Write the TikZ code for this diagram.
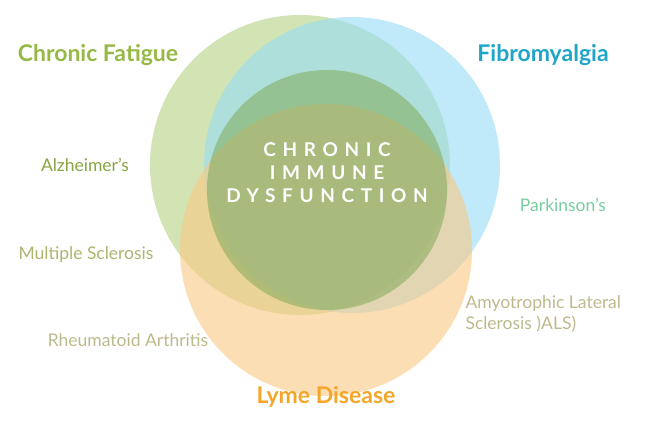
\documentclass[tikz,border=0pt]{standalone}
\usepackage{fontspec}
\setmainfont{Lato}
\newfontfamily\spacedfont[LetterSpace=35]{Lato}
\definecolor{fatiguegreen}{RGB}{150,185,70}
\definecolor{fibroblue}{RGB}{30,165,200}
\definecolor{lymeorange}{RGB}{245,165,40}
\definecolor{ringgreen}{RGB}{180,210,130}
\definecolor{ringblue}{RGB}{150,220,245}
\definecolor{ringorange}{RGB}{250,200,130}
\definecolor{corecol}{RGB}{130,170,90}
\definecolor{oliveA}{RGB}{135,165,65}
\definecolor{oliveB}{RGB}{175,180,110}
\definecolor{oliveC}{RGB}{190,185,140}
\definecolor{mint}{RGB}{120,205,160}
\begin{document}
\begin{tikzpicture}[x=1pt,y=-1pt]
\tikzstyle{ring}=[circle, inner sep=0pt, fill opacity=0.6]
\tikzstyle{title}=[font=\fontsize{23}{26}\selectfont\bfseries]
\tikzstyle{disease}=[font=\fontsize{17.5}{21}\selectfont]
\useasboundingbox (0,0) rectangle (650,433);
% the three overlapping rings
\node [ring, fill=ringgreen, minimum size=300pt] (fatigue) at (300,165) {};
\node [ring, fill=ringblue, minimum size=296pt] (fibro) at (352,165) {};
\node [ring, fill=ringorange, minimum size=292pt] (lyme) at (326,250) {};
\node [ring, fill=corecol, fill opacity=0.55, minimum size=240pt] (core) at (327,190) {};
% centre
\node [text=white, font=\fontsize{19}{23}\selectfont\spacedfont\bfseries, align=center] (immune) at (327,173) {CHRONIC\\IMMUNE\\DYSFUNCTION};
% titles
\node [title, text=fatiguegreen] (fatiguetxt) at (98,55) {Chronic Fatigue};
\node [title, text=fibroblue] (fibrotxt) at (543,55) {Fibromyalgia};
\node [title, text=lymeorange] (lymetxt) at (326,397) {Lyme Disease};
% diseases
\node [disease, text=oliveA] (alz) at (85,165) {Alzheimer’s};
\node [disease, text=mint] (park) at (563,205) {Parkinson’s};
\node [disease, text=oliveB] (ms) at (86,255) {Multiple Sclerosis};
\node [disease, text=oliveC, align=left, anchor=west] (als) at (462,314) {Amyotrophic Lateral\\Sclerosis )ALS)};
\node [disease, text=oliveC] (ra) at (128,340) {Rheumatoid Arthritis};
\end{tikzpicture}
\end{document}
